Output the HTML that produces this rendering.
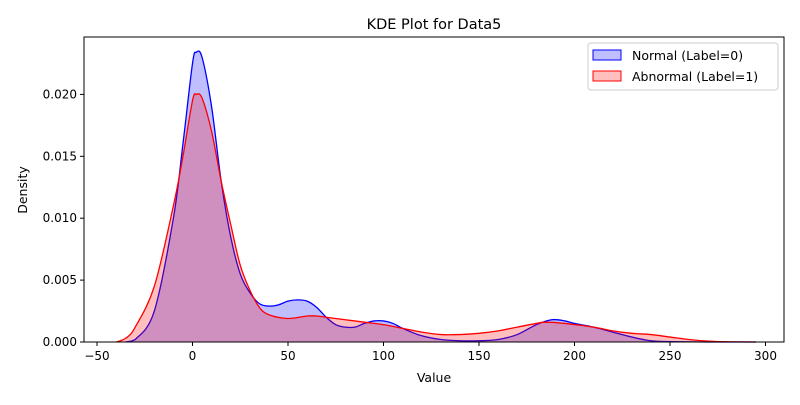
<!DOCTYPE html>
<html><head><meta charset="utf-8"><style>
body{margin:0;background:#fff}
svg text{font-family:"DejaVu Sans","Liberation Sans",sans-serif;fill:#000}
</style></head><body>
<svg id="c" width="800" height="400"></svg>
<script>
const xTicks=[-50,0,50,100,150,200,250,300];
const yTicks=[0,0.005,0.010,0.015,0.020];
const yTickLabels=["0.000","0.005","0.010","0.015","0.020"];
const normalX=[-35,-30,-20,-10,-5,0,2,5,10,15,20,25,30,35,40,45,50,55,60,65,70,75,80,85,90,95,100,105,110,120,130,140,150,160,170,180,188,195,200,210,220,230,240,250,270,295];
const normalY=[0,0.0002,0.0025,0.010,0.016,0.0225,0.0234,0.0230,0.019,0.013,0.0085,0.0055,0.0040,0.0031,0.0029,0.0030,0.0033,0.0034,0.0033,0.0028,0.0020,0.0014,0.0012,0.0012,0.0015,0.0017,0.0017,0.0015,0.0011,0.0005,0.0002,0.0001,0.0001,0.0002,0.0006,0.0014,0.0018,0.0017,0.0015,0.0012,0.0008,0.0004,0.0001,0.00003,0,0];
const abnX=[-40,-35,-30,-20,-10,-5,0,2,5,10,15,20,25,30,35,40,50,60,65,70,80,90,100,110,120,130,140,150,160,170,180,185,195,210,220,230,240,250,260,270,280,295];
const abnY=[0,0.0003,0.0012,0.0045,0.011,0.015,0.0195,0.0200,0.0197,0.017,0.013,0.0095,0.0062,0.0042,0.0028,0.0022,0.0019,0.0021,0.0021,0.0020,0.0018,0.0016,0.0014,0.0011,0.0008,0.0006,0.0006,0.0007,0.0009,0.0012,0.0015,0.0016,0.0015,0.0012,0.0009,0.0007,0.0006,0.0004,0.0002,0.00007,0.00002,0];
const NS="http://www.w3.org/2000/svg";
const svg=document.getElementById('c');
const L=84,R=784,T=37,B=342;
const sx=v=>192.5+v*1.91;
const sy=v=>B-v/0.005*61.9;
function el(t,a,p){const e=document.createElementNS(NS,t);for(const k in a)e.setAttribute(k,a[k]);(p||svg).appendChild(e);return e;}
function smooth(pts){
  let d=`M${pts[0][0]},${pts[0][1]}`;
  for(let i=0;i<pts.length-1;i++){
    const p0=pts[i-1]||pts[i],p1=pts[i],p2=pts[i+1],p3=pts[i+2]||p2;
    let c1y=p1[1]+(p2[1]-p0[1])/6,c2y=p2[1]-(p3[1]-p1[1])/6;
    c1y=Math.min(c1y,B);c2y=Math.min(c2y,B);
    d+=` C${p1[0]+(p2[0]-p0[0])/6},${c1y} ${p2[0]-(p3[0]-p1[0])/6},${c2y} ${p2[0]},${p2[1]}`;
  }
  return d;
}
function series(xs,ys,col,fill,name){
  const pts=xs.map((x,i)=>[sx(x),sy(ys[i])]);
  const l=smooth(pts);
  const a=el('path',{d:l+` L${sx(xs[xs.length-1])},${B} L${sx(xs[0])},${B} Z`,fill:fill,stroke:'none'});
  
  
  const b=el('path',{d:l,fill:'none',stroke:col,'stroke-width':1.3});
  
  
}
series(normalX,normalY,'#0000ff','rgba(0,0,255,0.25)','normal-kde');
series(abnX,abnY,'#ff0000','rgba(255,0,0,0.25)','abnormal-kde');
const fr=el('rect',{x:L,y:T,width:R-L,height:B-T,fill:'none',stroke:'#000','stroke-width':1});

xTicks.forEach(v=>{
  el('line',{x1:sx(v),x2:sx(v),y1:B,y2:B+4,stroke:'#000'});
  const t=el('text',{x:sx(v),y:B+18,'text-anchor':'middle','font-size':12});t.textContent=v<0?'\u2212'+(-v):v;
  
});
yTicks.forEach((v,i)=>{
  el('line',{x1:L-4,x2:L,y1:sy(v),y2:sy(v),stroke:'#000'});
  const t=el('text',{x:L-7,y:sy(v)+4,'text-anchor':'end','font-size':12});t.textContent=yTickLabels[i];
  
});
let t=el('text',{x:434,y:29,'text-anchor':'middle','font-size':14.5});t.textContent='KDE Plot for Data5';

t=el('text',{x:434,y:382,'text-anchor':'middle','font-size':12.5});t.textContent='Value';

t=el('text',{x:0,y:0,'text-anchor':'middle','font-size':12.5,transform:'translate(27,190) rotate(-90)'});t.textContent='Density';

const lg=el('g',{});
el('rect',{x:588,y:43,width:190,height:47,rx:3,fill:'#fff','fill-opacity':0.8,stroke:'#ccc'},lg);
el('rect',{x:593,y:50,width:28,height:10,fill:'rgba(0,0,255,0.25)',stroke:'#0000ff'},lg);
el('rect',{x:593,y:71,width:28,height:10,fill:'rgba(255,0,0,0.25)',stroke:'#ff0000'},lg);
t=el('text',{x:632,y:60,'font-size':12.5},lg);t.textContent='Normal (Label=0)';

t=el('text',{x:632,y:81,'font-size':12.5},lg);t.textContent='Abnormal (Label=1)';

</script>
</body></html>
